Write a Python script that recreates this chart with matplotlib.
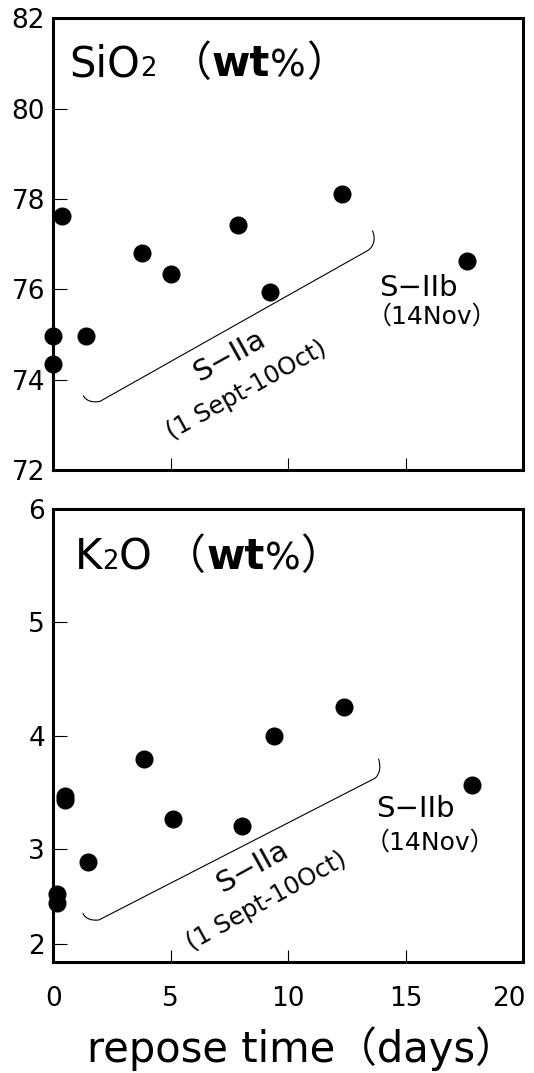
import matplotlib
matplotlib.use("Agg")
import matplotlib.pyplot as plt
import matplotlib.transforms as mtransforms
from matplotlib.path import Path
from matplotlib.patches import PathPatch
from matplotlib.offsetbox import TextArea, HPacker, AnchoredOffsetbox

plt.rcParams['font.family'] = ['DejaVu Sans', 'Noto Sans CJK JP']

# data
sio2_days = [0.0, 0.0, 0.36, 1.39, 3.79, 5.01, 7.87, 9.22, 12.30, 17.59]
sio2_wt = [74.97, 74.34, 77.62, 74.97, 76.81, 76.34, 77.42, 75.93, 78.12, 76.63]

k2o_days = [0.14, 0.14, 0.49, 0.51, 1.49, 3.87, 5.11, 8.02, 9.40, 12.38, 17.80]
k2o_wt = [2.60, 2.52, 3.465, 3.435, 2.88, 3.79, 3.26, 3.20, 4.00, 4.25, 3.56]

x_ticks = [0, 5, 10, 15, 20]
sio2_ticks = [72, 74, 76, 78, 80, 82]
k2o_ticks = [2.16, 3, 4, 5, 6]   # the "2" tick sits a bit off scale in the original
k2o_tick_labels = ['2', '3', '4', '5', '6']

# brace outlines (start, two controls, corner, line end, two controls, tip)
sio2_brace = [(1.28, 73.65), (1.35, 73.545), (1.65, 73.48), (1.99, 73.52),
              (13.39, 76.86), (13.65, 76.95), (13.73, 77.13), (13.58, 77.30)]
k2o_brace = [(1.264, 2.432), (1.306, 2.396), (1.562, 2.361), (1.945, 2.372),
             (13.69, 3.623), (13.90, 3.659), (13.95, 3.729), (13.84, 3.795)]


def draw_brace(ax, pts):
    codes = [Path.MOVETO, Path.CURVE4, Path.CURVE4, Path.CURVE4,
             Path.LINETO, Path.CURVE4, Path.CURVE4, Path.CURVE4]
    ax.add_patch(PathPatch(Path(pts, codes), fill=False, lw=0.8, color='black'))


def add_title(ax, head, sub, tail, size, x, y):
    parts = [TextArea(head, textprops=dict(fontsize=size)),
             TextArea(sub, textprops=dict(fontsize=size * 0.62))]
    if tail:
        parts.append(TextArea(tail, textprops=dict(fontsize=size)))
    parts += [
        TextArea(" （", textprops=dict(fontsize=size)),
        TextArea("wt", textprops=dict(fontsize=size, fontweight='bold')),
        TextArea("%", textprops=dict(fontsize=size * 0.9)),
        TextArea("）", textprops=dict(fontsize=size)),
    ]
    box = HPacker(children=parts, align="baseline", pad=0, sep=0)
    anchored = AnchoredOffsetbox(loc='upper left', child=box, pad=0, borderpad=0,
                                 frameon=False, bbox_to_anchor=(x, y),
                                 bbox_transform=ax.transAxes)
    ax.add_artist(anchored)


def style_axes(ax):
    for sp in ax.spines.values():
        sp.set_linewidth(2.2)
    ax.tick_params(axis='y', direction='in', length=10, width=0.8, labelsize=19, pad=6)
    ax.tick_params(axis='x', direction='in', length=9, width=0.8, labelsize=19, pad=17)
    ax.set_xlim(0, 20)
    ax.set_xticks(x_ticks)


fig = plt.figure(figsize=(5.34, 10.73), dpi=100)
ax1 = fig.add_axes([0.0998, 0.5620, 0.880, 0.4210])
ax2 = fig.add_axes([0.0998, 0.1034, 0.880, 0.4222])

# SiO2 panel
style_axes(ax1)
ax1.set_ylim(72, 82)
ax1.set_yticks(sio2_ticks)
ax1.tick_params(axis='x', labelbottom=False)
ax1.plot(sio2_days, sio2_wt, 'o', color='black', ms=12, clip_on=False, zorder=5)
draw_brace(ax1, sio2_brace)
add_title(ax1, "SiO", "2", "", 30, 0.035, 0.945)
ax1.text(15.52, 75.85, "S−IIb", fontsize=21, ha='center', va='baseline')
ax1.text(16.1, 75.24, "（14Nov）", fontsize=18, ha='center', va='baseline')
ax1.text(7.48, 74.53, "S−IIa", fontsize=21, rotation=29, rotation_mode='anchor',
         ha='center', va='center')
ax1.text(8.23, 73.76, "(1 Sept-10Oct)", fontsize=17.5, rotation=29, rotation_mode='anchor',
         ha='center', va='center')

# K2O panel
style_axes(ax2)
ax2.set_ylim(2, 6)
ax2.set_yticks(k2o_ticks)
ax2.set_yticklabels(k2o_tick_labels)
ax2.plot(k2o_days, k2o_wt, 'o', color='black', ms=12, clip_on=False, zorder=5)
draw_brace(ax2, k2o_brace)
add_title(ax2, "K", "2", "O", 30, 0.045, 0.94)
ax2.text(15.43, 3.28, "S−IIb", fontsize=21, ha='center', va='baseline')
ax2.text(16.05, 2.99, "（14Nov）", fontsize=18, ha='center', va='baseline')
ax2.text(8.46, 2.84, "S−IIa", fontsize=21, rotation=29, rotation_mode='anchor',
         ha='center', va='center')
ax2.text(9.09, 2.54, "(1 Sept-10Oct)", fontsize=17.5, rotation=29, rotation_mode='anchor',
         ha='center', va='center')

# keep the last x tick label inside the canvas
last_label = ax2.get_xticklabels()[-1]
last_label.set_transform(last_label.get_transform() +
                         mtransforms.ScaledTranslation(-10 / 72, 0, fig.dpi_scale_trans))

fig.text(0.565, 0.0106, "repose time（days）", fontsize=30, ha='center', va='baseline')

fig.savefig("out.png", dpi=100)
